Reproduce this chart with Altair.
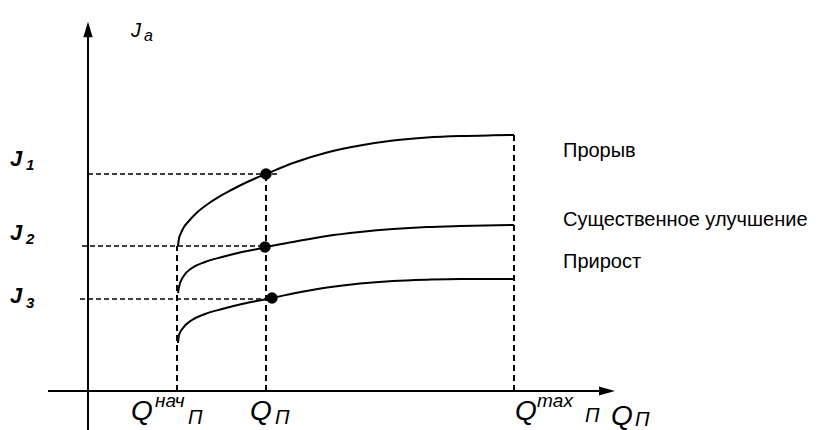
import altair as alt
import pandas as pd

# ---------------- data (schematic units: Q horizontal, J vertical) ----------------
series_names = ["Прорыв", "Существенное улучшение", "Прирост"]

q_breakthrough = [90, 91, 93, 96, 100, 109, 122, 135, 152, 167, 178, 205, 239, 272, 305, 339, 372, 405, 426]
j_breakthrough = [145, 152.5, 158, 164, 169, 178.5, 188.5, 196.5, 205.5, 212.5, 217, 228, 238.5, 245.5, 250.5, 253.5, 255, 255.7, 256]

q_improvement = [90, 91, 95, 104, 117, 134, 154, 174, 178, 205, 239, 272, 305, 339, 372, 426]
j_improvement = [98, 104, 114, 123, 129, 134, 139, 143, 144, 149, 155, 159, 162, 164, 165, 166]

q_growth = [90, 91, 95, 104, 117, 134, 154, 174, 184, 205, 239, 272, 305, 339, 372, 426]
j_growth = [48, 56, 63, 71, 77, 82, 87, 91, 93, 97.5, 103.5, 107.5, 110, 111.3, 112, 112]

# marked points (Q_П on each curve)
dot_q = [178, 177, 184]
dot_j = [217, 144, 93]

# vertical guides: Q_нач, Q_П, Q_max and their upper ends
guide_q = [89, 178, 426]
guide_top = [145, 217, 256]

# horizontal guides: J1, J2, J3
level_j = [217, 145, 92]
level_from = [0, -6, -8]
level_to = [192, 178, 183]

# ---------------- build ----------------
FONT = "Liberation Sans"
xs = alt.Scale(domain=[-88, 738], nice=False, zero=False)
ys = alt.Scale(domain=[-39, 391], nice=False, zero=False)


def xd(v):
    return alt.XDatum(v, type="quantitative", scale=xs, axis=None)


def yd(v):
    return alt.YDatum(v, type="quantitative", scale=ys, axis=None)


one = pd.DataFrame({"k": [0]})

curve_df = pd.concat([
    pd.DataFrame({"series": series_names[0], "Q": q_breakthrough, "J": j_breakthrough}),
    pd.DataFrame({"series": series_names[1], "Q": q_improvement, "J": j_improvement}),
    pd.DataFrame({"series": series_names[2], "Q": q_growth, "J": j_growth}),
], ignore_index=True)

curves = alt.Chart(curve_df).mark_line(
    color="black", strokeWidth=2, interpolate="monotone"
).encode(
    x=alt.X("Q:Q", scale=xs, axis=None),
    y=alt.Y("J:Q", scale=ys, axis=None),
    detail="series:N",
)

dots = alt.Chart(pd.DataFrame({"Q": dot_q, "J": dot_j})).mark_circle(
    color="black", size=130, opacity=1
).encode(
    x=alt.X("Q:Q", scale=xs, axis=None),
    y=alt.Y("J:Q", scale=ys, axis=None),
)

vguides = alt.Chart(pd.DataFrame({"Q": guide_q, "top": guide_top, "base": [0, 0, 0]})).mark_rule(
    color="black", strokeWidth=2, strokeDash=[6, 4]
).encode(
    x=alt.X("Q:Q", scale=xs, axis=None),
    y=alt.Y("base:Q", scale=ys, axis=None),
    y2="top:Q",
)

hguides = alt.Chart(pd.DataFrame({"J": level_j, "a": level_from, "b": level_to})).mark_rule(
    color="black", strokeWidth=1.3, strokeDash=[5, 3]
).encode(
    x=alt.X("a:Q", scale=xs, axis=None),
    x2="b:Q",
    y=alt.Y("J:Q", scale=ys, axis=None),
)

yaxis = alt.Chart(one).mark_rule(color="black", strokeWidth=2).encode(
    x=xd(0), y=yd(-39), y2=alt.datum(354)
)
xaxis = alt.Chart(one).mark_rule(color="black", strokeWidth=2).encode(
    x=xd(-40), x2=alt.datum(512), y=yd(0)
)
yarrow = alt.Chart(one).mark_point(
    shape="M0,-1L-0.6,1L0.6,1Z", size=240, filled=True, color="black", opacity=1, strokeWidth=0
).encode(x=xd(0), y=yd(361.5))
xarrow = alt.Chart(one).mark_point(
    shape="M1,0L-1,-0.55L-1,0.55Z", size=256, filled=True, color="black", opacity=1, strokeWidth=0
).encode(x=xd(519), y=yd(0))


def txt(s, q, j, size, italic=True, bold=False):
    return alt.Chart(one).mark_text(
        text=s, align="left", baseline="alphabetic", font=FONT, fontSize=size,
        fontStyle="italic" if italic else "normal",
        fontWeight="bold" if bold else "normal", color="black",
    ).encode(x=xd(q), y=yd(j))


labels = [
    txt("J", 43, 354, 20), txt("a", 56, 350, 16),
    txt("J", -78, 225, 22, bold=True), txt("1", -62, 221, 15, bold=True),
    txt("J", -78, 151, 22, bold=True), txt("2", -62, 147, 15, bold=True),
    txt("J", -78, 88, 22, bold=True), txt("3", -62, 83, 15, bold=True),
    txt(series_names[0], 475, 234, 20, italic=False),
    txt(series_names[1], 475, 165, 20, italic=False),
    txt(series_names[2], 475, 123, 20, italic=False),
    txt("Q", 43, -29, 28), txt("нач", 67, -16, 19), txt("П", 100, -33, 20),
    txt("Q", 162, -29, 28), txt("П", 187, -33, 20),
    txt("Q", 427, -29, 28), txt("max", 449, -16, 19), txt("П", 497, -31, 20),
    txt("Q", 523, -34, 28), txt("П", 547, -35, 20),
]

chart = alt.layer(
    hguides, vguides, yaxis, xaxis, yarrow, xarrow, curves, dots, *labels
).properties(
    width=826, height=430, padding=0, autosize=alt.AutoSizeParams(type="none"),
    background="white",
).configure_view(stroke=None)

chart.save("out.html", embed_options={"renderer": "svg", "actions": False})
